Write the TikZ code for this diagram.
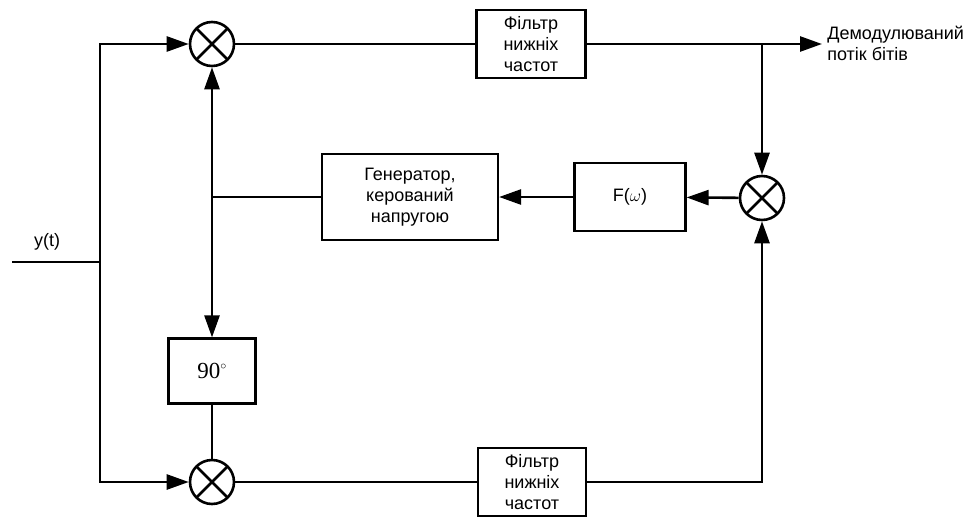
\documentclass[tikz,border=0pt]{standalone}
\usepackage{fontspec}
\setmainfont{Liberation Sans}
\newfontfamily\timesfont{Liberation Serif}
\usetikzlibrary{arrows.meta}
\begin{document}
\begin{tikzpicture}[x=1pt,y=1pt,line width=2.6pt,>={Triangle[length=22pt 0 0,width=15pt 0 0]}]
	\tikzstyle{every node}+=[inner sep=0pt,font=\fontsize{18}{21}\selectfont,align=center]
	\tikzstyle{block}=[draw,line width=2.2pt]
	\tikzstyle{mixer}=[draw,circle,minimum size=44pt,line width=2.6pt,path picture={\draw[line width=2.6pt] (path picture bounding box.north west) -- (path picture bounding box.south east) (path picture bounding box.north east) -- (path picture bounding box.south west);}]
	\useasboundingbox (0,0) rectangle (965,-516);
	% mixers
	\node [mixer] (m1) at (212,-44) {};
	\node [mixer] (m2) at (212,-482) {};
	\node [mixer] (m3) at (762,-198) {};
	% blocks
	\node [block,minimum width=109pt,minimum height=68pt] (lpf1) at (531,-44) {Фільтр\\нижніх\\частот};
	\node [block,minimum width=108pt,minimum height=68pt] (lpf2) at (532,-482) {Фільтр\\нижніх\\частот};
	\node [block,minimum width=176pt,minimum height=86pt] (vco) at (410,-197) {Генератор,\\керований\\напругою};
	\node [block,minimum width=111pt,minimum height=68pt] (loopf) at (630,-197) {F($\omega$)};
	\node [block,minimum width=87pt,minimum height=65pt] (shift) at (212,-371) {\fontsize{23}{23}\timesfont 90$^{\scriptscriptstyle\circ}$};
	% free ends
	\coordinate (in) at (12,-262);
	\coordinate (split) at (100,-262);
	\coordinate (tap) at (212,-197);
	\coordinate (branch) at (762,-44);
	\coordinate (out) at (822,-44);
	\node [anchor=west,align=left] (outlabel) at (826,-43) {Демодулюваний\\потік бітів};
	\node (ylabel) at (47,-242) {y(t)};
	% connectors
	\draw (in) -- (split);
	\draw [->] (split) |- (m1);
	\draw [->] (split) |- (m2);
	\draw (m1) -- (lpf1);
	\draw [->] (lpf1) -- (out);
	\draw [->] (branch) -- (m3);
	\draw (m2) -- (lpf2);
	\draw [->] (lpf2) -| (m3);
	\draw [->] (m3) -- (loopf);
	\draw [->] (loopf) -- (vco);
	\draw (vco) -- (tap);
	\draw [->] (tap) -- (m1);
	\draw [->] (tap) -- (shift);
	\draw (shift) -- (m2);
\end{tikzpicture}
\end{document}
